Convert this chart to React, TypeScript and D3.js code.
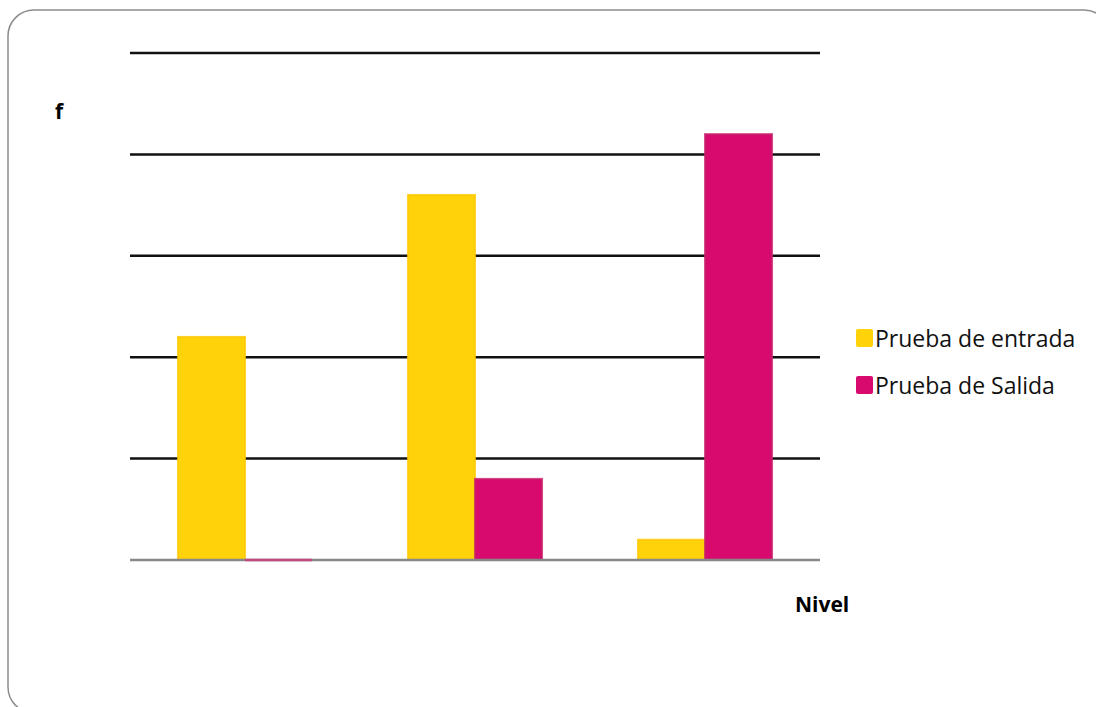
import React from "react";
import * as d3 from "d3";

const categories = ["Bajo", "Medio", "Alto"];
const entrada = [11, 18, 1];
const salida = [0, 4, 21];
const seriesNames = ["Prueba de entrada", "Prueba de Salida"];
const yTicks = [5, 10, 15, 20, 25];

const W = 1096;
const H = 707;
const colors = ["#FFD20A", "#D80A6E"];
const strokes = ["#FFC800", "#C8206A"];

export default function App() {
  const x = d3
    .scaleBand<string>()
    .domain(categories)
    .range([130, 820])
    .paddingInner(0.417)
    .paddingOuter(0.2085);
  const inner = d3
    .scaleBand<string>()
    .domain(seriesNames)
    .range([0, x.bandwidth()])
    .padding(0);
  const y = d3.scaleLinear().domain([0, 25]).range([560, 53]);
  const series = [entrada, salida];
  const font = "'Open Sans', Lato, sans-serif";

  return (
    <svg
      width={W}
      height={H}
      style={{ position: "absolute", left: 0, top: 0, background: "#fff" }}
    >
      <rect x={8} y={10} width={1102} height={703} rx={26} ry={26} fill="#fff" stroke="#8c8c8c" strokeWidth={1.5} />
      {yTicks.map((t) => (
        <line key={t} x1={130} x2={820} y1={y(t)} y2={y(t)} stroke="#111" strokeWidth={2.5} />
      ))}
      {categories.map((c, i) =>
        series.map((s, k) => {
          const v = s[i];
          const bx = (x(c) as number) + (inner(seriesNames[k]) as number);
          return (
            <rect
              key={c + k}
              x={bx}
              y={y(v)}
              width={inner.bandwidth()}
              height={y(0) - y(v)}
              fill={colors[k]}
              stroke={strokes[k]}
              strokeWidth={2}
              strokeOpacity={0.8}
            />
          );
        })
      )}
      <line x1={130} x2={820} y1={y(0)} y2={y(0)} stroke="#888" strokeWidth={2.5} />
      {categories.map((c, i) => {
        const v = salida[i];
        if (v !== 0) return null;
        const bx = (x(c) as number) + (inner(seriesNames[1]) as number);
        return (
          <line key={"z" + c} x1={bx} x2={bx + inner.bandwidth()} y1={y(0)} y2={y(0)} stroke="#C04A80" strokeWidth={2.5} />
        );
      })}
      <text x={55} y={119} fontFamily={font} fontWeight={700} fontSize={21} fill="#000">f</text>
      <text x={795} y={612} fontFamily={font} fontWeight={700} fontSize={21} fill="#000">Nivel</text>
      {seriesNames.map((n, k) => (
        <g key={n} transform={`translate(856, ${329 + k * 47})`}>
          <rect x={0} y={0} width={17} height={18} rx={2} fill={colors[k]} />
          <text x={19} y={18} fontFamily={font} fontSize={23} fill="#111">{n}</text>
        </g>
      ))}
    </svg>
  );
}
